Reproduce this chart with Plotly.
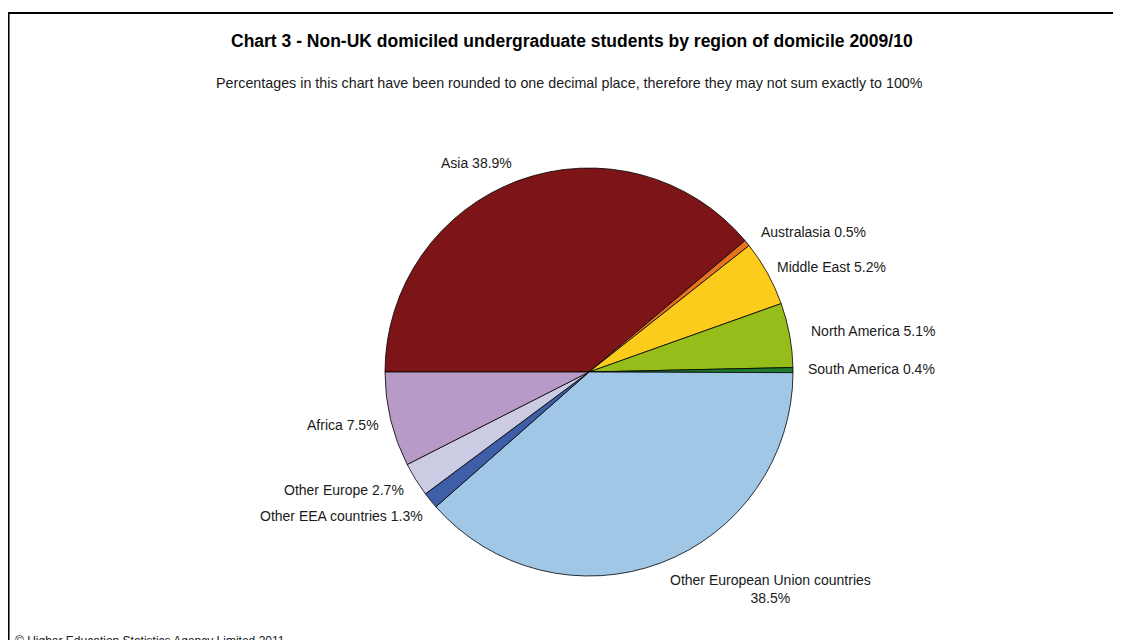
import plotly.graph_objects as go

regions = ["Asia", "Australasia", "Middle East", "North America", "South America",
           "Other European Union countries", "Other EEA countries", "Other Europe", "Africa"]
shares = [38.9, 0.5, 5.2, 5.1, 0.4, 38.5, 1.3, 2.7, 7.5]
colors = ["#7D1418", "#E8731E", "#FDCB1C", "#97BD1B", "#1E7A2E",
          "#A1C7E7", "#3F5EA8", "#CBCBE3", "#B79AC6"]

title = "Chart 3 - Non-UK domiciled undergraduate students by region of domicile 2009/10"
subtitle = "Percentages in this chart have been rounded to one decimal place, therefore they may not sum exactly to 100%"
footer = "© Higher Education Statistics Agency Limited 2011"

W, H = 1121, 640
OFF = 8  # page body margin offset

def px2x(px):
    return (px - OFF) / W

def py2y(py):
    return 1 - (py - OFF) / H

# label positions in page pixels (x, y center), anchors
label_pos = [
    (476, 163, "center"),
    (813, 232, "center"),
    (831, 267, "center"),
    (873, 331, "center"),
    (871, 369, "center"),
    (770, 589, "center"),
    (425, 516, "right"),
    (406, 490, "right"),
    (381, 425, "right"),
]

cx, cy, r = 589, 372, 204

fig = go.Figure(go.Pie(
    labels=regions, values=shares, sort=False, direction="clockwise", rotation=270,
    marker=dict(colors=colors, line=dict(color="#000000", width=0.8)),
    textinfo="none", showlegend=False,
    domain=dict(x=[px2x(cx - r), px2x(cx + r)], y=[py2y(cy + r), py2y(cy - r)]),
))

fam = "Liberation Sans, Arial, sans-serif"
annotations = []
for name, val, (px, py, anc) in zip(regions, shares, label_pos):
    if name == "Other European Union countries":
        txt = f"{name}<br>{val}%"
    else:
        txt = f"{name} {val}%"
    annotations.append(dict(x=px2x(px), y=py2y(py), xref="paper", yref="paper",
                            text=txt, showarrow=False, xanchor=anc, yanchor="middle",
                            font=dict(size=14, family=fam, color="#1a1a1a")))
annotations.append(dict(x=px2x(572), y=py2y(41), xref="paper", yref="paper", text=f"<b>{title}</b>",
                        showarrow=False, xanchor="center", yanchor="middle",
                        font=dict(size=17.5, family=fam, color="#000000")))
annotations.append(dict(x=px2x(569), y=py2y(83), xref="paper", yref="paper", text=subtitle,
                        showarrow=False, xanchor="center", yanchor="middle",
                        font=dict(size=14.3, family=fam, color="#1a1a1a")))
annotations.append(dict(x=px2x(13), y=py2y(632), xref="paper", yref="paper", text=footer,
                        showarrow=False, xanchor="left", yanchor="top",
                        font=dict(size=12, family=fam, color="#1a1a1a")))

shapes = [
    dict(type="line", xref="paper", yref="paper", x0=0, x1=1.02, y0=py2y(13), y1=py2y(13),
         line=dict(color="#000000", width=2)),
    dict(type="line", xref="paper", yref="paper", x0=0.0005, x1=0.0005, y0=-0.02, y1=py2y(12),
         line=dict(color="#000000", width=2)),
]

fig.update_layout(
    width=W, height=H, margin=dict(l=0, r=0, t=0, b=0),
    paper_bgcolor="white", plot_bgcolor="white",
    annotations=annotations, shapes=shapes,
)

fig.write_html("out.html")
